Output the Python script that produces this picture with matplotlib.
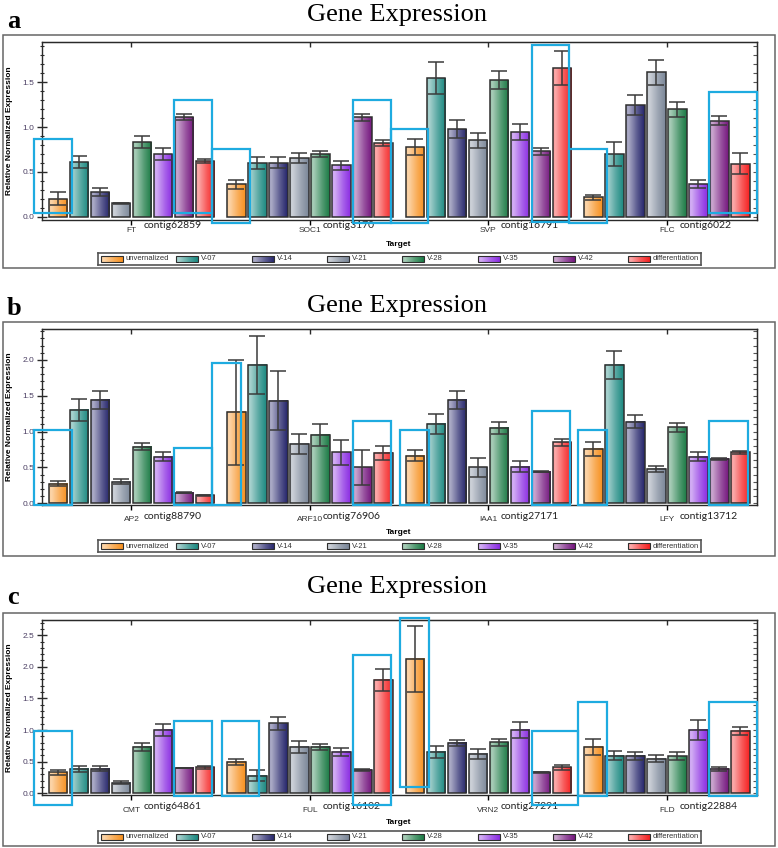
import numpy as np
import matplotlib
matplotlib.use('Agg')
import matplotlib.pyplot as plt
from matplotlib.colors import LinearSegmentedColormap, to_rgb
from matplotlib.patches import Rectangle
from matplotlib.ticker import MultipleLocator

# series (legend order) and the groups on each panel
series = ['unvernalized', 'V-07', 'V-14', 'V-21', 'V-28', 'V-35', 'V-42', 'differentiation']

genes_a = ['FT', 'SOC1', 'SVP', 'FLC']
contigs_a = ['contig62859', 'contig3170', 'contig16791', 'contig6022']
vals_a = [[0.20, 0.61, 0.27, 0.15, 0.83, 0.70, 1.11, 0.62],
          [0.36, 0.60, 0.60, 0.655, 0.70, 0.575, 1.11, 0.82],
          [0.78, 1.55, 0.98, 0.85, 1.53, 0.94, 0.73, 1.66],
          [0.215, 0.70, 1.25, 1.61, 1.20, 0.36, 1.07, 0.59]]
errs_a = [[0.07, 0.07, 0.045, 0.005, 0.065, 0.07, 0.035, 0.025],
          [0.05, 0.07, 0.06, 0.06, 0.035, 0.05, 0.04, 0.035],
          [0.09, 0.18, 0.10, 0.085, 0.10, 0.09, 0.04, 0.19],
          [0.025, 0.13, 0.11, 0.14, 0.085, 0.045, 0.05, 0.12]]

genes_b = ['AP2', 'ARF10', 'IAA1', 'LFY']
contigs_b = ['contig88790', 'contig76906', 'contig27171', 'contig13712']
vals_b = [[0.27, 1.30, 1.44, 0.30, 0.79, 0.65, 0.15, 0.11],
          [1.27, 1.93, 1.43, 0.83, 0.95, 0.71, 0.50, 0.70],
          [0.665, 1.11, 1.44, 0.50, 1.05, 0.51, 0.44, 0.85],
          [0.76, 1.93, 1.14, 0.48, 1.06, 0.65, 0.62, 0.71]]
errs_b = [[0.035, 0.15, 0.12, 0.035, 0.045, 0.06, 0.005, 0.005],
          [0.73, 0.40, 0.41, 0.14, 0.15, 0.17, 0.24, 0.10],
          [0.08, 0.14, 0.125, 0.13, 0.08, 0.075, 0.01, 0.05],
          [0.095, 0.20, 0.09, 0.04, 0.06, 0.065, 0.015, 0.02]]

genes_c = ['CMT', 'FUL', 'VRN2', 'FLD']
contigs_c = ['contig64861', 'contig16102', 'contig27291', 'contig22884']
vals_c = [[0.33, 0.385, 0.385, 0.17, 0.73, 1.00, 0.40, 0.41],
          [0.50, 0.28, 1.105, 0.73, 0.73, 0.65, 0.37, 1.79],
          [2.12, 0.65, 0.80, 0.62, 0.805, 1.00, 0.33, 0.41],
          [0.73, 0.595, 0.595, 0.55, 0.585, 1.00, 0.385, 0.985]]
errs_c = [[0.035, 0.05, 0.04, 0.02, 0.06, 0.10, 0.005, 0.02],
          [0.05, 0.085, 0.10, 0.09, 0.045, 0.06, 0.015, 0.17],
          [0.52, 0.09, 0.05, 0.085, 0.05, 0.12, 0.005, 0.035],
          [0.13, 0.07, 0.065, 0.05, 0.06, 0.16, 0.03, 0.065]]

# cyan highlight boxes (x0, x1, y0, y1) in data units
boxes_a = [(-1.13, 0.68, 0.04, 0.87), (5.54, 7.35, 0.04, 1.30), (7.35, 9.14, -0.07, 0.76),
           (14.05, 15.86, -0.067, 1.30), (15.86, 17.62, -0.067, 0.98), (22.56, 24.35, -0.056, 1.92),
           (24.35, 26.16, -0.07, 0.76), (31.0, 33.27, 0.04, 1.39)]
boxes_b = [(-1.13, 0.68, -0.02, 1.02), (5.54, 7.35, -0.02, 0.77), (7.35, 8.70, -0.02, 1.95),
           (14.05, 15.86, -0.02, 1.15), (16.3, 17.67, -0.02, 1.02), (22.56, 24.38, -0.02, 1.29),
           (24.78, 26.16, -0.02, 1.02), (31.0, 32.84, -0.02, 1.15)]
boxes_c = [(-1.13, 0.68, -0.18, 0.99), (5.54, 7.35, -0.05, 1.14), (7.79, 9.59, -0.05, 1.14),
           (14.05, 15.86, -0.18, 2.18), (16.3, 17.67, 0.095, 2.77), (22.56, 24.78, -0.18, 0.99),
           (24.78, 26.16, -0.05, 1.45), (31.0, 33.27, -0.05, 1.45)]

base_colors = ['#f7901e', '#1a8880', '#23236a', '#7a8698', '#1a7a44', '#8a2be2', '#74167e', '#f52020']


def grad_cmap(c):
    c = np.array(to_rgb(c))
    w = np.ones(3)
    return LinearSegmentedColormap.from_list(
        'g', [(0.0, c * 0.45 + w * 0.55), (0.12, c * 0.38 + w * 0.62),
              (0.6, c * 0.75 + w * 0.25), (1.0, c)])


cmaps = [grad_cmap(c) for c in base_colors]
grad = np.linspace(0, 1, 64).reshape(1, -1)

W, H = 778, 848
fig = plt.figure(figsize=(W / 100, H / 100), dpi=100)


def fx(px):
    return px / W


def fy(py):
    return 1 - py / H


XLIM = (-0.76, 33.29)
GSTEP = 8.5
BOXC = '#1eabe0'
DARK = '#2e2e2e'

panels = [
    dict(letter='a', genes=genes_a, contigs=contigs_a, vals=vals_a, errs=errs_a, boxes=boxes_a,
         top=42, bot=219.7, ylim=(-0.035, 1.95), ymax_tick=1.5, frame=(35, 268), title=21,
         letter_y=28, legend_y=259, target_y=245, contig_off=1.5, gene_pad=5),
    dict(letter='b', genes=genes_b, contigs=contigs_b, vals=vals_b, errs=errs_b, boxes=boxes_b,
         top=329.3, bot=505, ylim=(-0.024, 2.427), ymax_tick=2.0, frame=(321.7, 556), title=312,
         letter_y=315, legend_y=546, target_y=532, contig_off=7, gene_pad=8),
    dict(letter='c', genes=genes_c, contigs=contigs_c, vals=vals_c, errs=errs_c, boxes=boxes_c,
         top=620, bot=795, ylim=(-0.027, 2.74), ymax_tick=2.5, frame=(612.7, 845.7), title=593,
         letter_y=604, legend_y=837, target_y=822, contig_off=7, gene_pad=9),
]

for p in panels:
    # outer frame, title, letter
    fig.patches.append(Rectangle((fx(3), fy(p['frame'][1])), fx(775) - fx(3),
                                 (p['frame'][1] - p['frame'][0]) / H, transform=fig.transFigure,
                                 fill=False, edgecolor='#666666', lw=1.1))
    fig.text(fx(397), fy(p['title']), 'Gene Expression', family='Liberation Serif',
             fontsize=19, ha='center', va='baseline')
    fig.text(fx(7), fy(p['letter_y']), p['letter'], family='Liberation Serif',
             fontsize=19, fontweight='bold', ha='left', va='baseline')

    ax = fig.add_axes([fx(42), fy(p['bot']), fx(757) - fx(42), (p['bot'] - p['top']) / H])
    vals = np.array(p['vals'])
    errs = np.array(p['errs'])
    centers = np.arange(4) * GSTEP + 3.5
    for j in range(8):
        xs = np.arange(4) * GSTEP + j
        bars = ax.bar(xs, vals[:, j], width=0.88, facecolor='none', edgecolor=DARK,
                      lw=1.1, zorder=3)
        for r in bars:
            x0, w, h = r.get_x(), r.get_width(), r.get_height()
            ax.imshow(grad, cmap=cmaps[j], extent=(x0, x0 + w, 0, h), aspect='auto',
                      interpolation='bilinear', zorder=2)
        ax.errorbar(xs, vals[:, j], yerr=errs[:, j], fmt='none', ecolor='#3a3a3a',
                    elinewidth=1.1, capsize=5.6, capthick=1.1, zorder=4)
    for (x0, x1, y0, y1) in p['boxes']:
        ax.add_patch(Rectangle((x0, y0), x1 - x0, y1 - y0, fill=False, edgecolor=BOXC,
                               lw=1.6, zorder=6, clip_on=False))
    ax.set_xlim(*XLIM)
    ax.set_ylim(*p['ylim'])
    ax.set_aspect('auto')

    for s in ax.spines.values():
        s.set_color('#2a2a2a')
        s.set_linewidth(1.0)

    ax.set_yticks(np.arange(0, p['ymax_tick'] + 0.01, 0.5))
    ax.set_yticklabels(['%.1f' % v for v in np.arange(0, p['ymax_tick'] + 0.01, 0.5)])
    ax.yaxis.set_minor_locator(MultipleLocator(0.1))
    ax.tick_params(axis='y', which='major', direction='inout', length=6.5, width=1,
                   labelsize=6, labelcolor='#4b3f63', color='#2a2a2a', pad=2,
                   labelfontfamily='Liberation Sans')
    ax.tick_params(axis='y', which='minor', direction='inout', length=3.5, width=0.8,
                   color='#2a2a2a')

    ax.set_xticks(centers)
    ax.set_xticklabels(p['genes'])
    ax.tick_params(axis='x', which='major', direction='out', length=3.5, width=1,
                   labelsize=6, labelcolor='#333333', pad=p['gene_pad'] - 3.5,
                   labelfontfamily='Liberation Sans')

    top = ax.secondary_xaxis('top')
    top.set_xticks(centers)
    top.set_xticklabels([])
    top.tick_params(direction='in', length=3.5, width=1, color='#2a2a2a')

    right = ax.secondary_yaxis('right')
    right.yaxis.set_major_locator(MultipleLocator(0.1))
    right.set_yticklabels([])
    right.tick_params(direction='in', length=3, width=0.8, color='#555555')

    for cx, name in zip(centers, p['contigs']):
        ax.annotate(name, xy=(cx + 0.6, 0), xycoords=('data', 'axes fraction'),
                    xytext=(0, -p['contig_off'] * 0.72), textcoords='offset points',
                    ha='left', va='top', fontsize=7.5, family='Lato', color='#222222')

    ax.set_ylabel('Relative Normalized Expression', fontsize=6, fontweight='bold',
                  family='Liberation Sans')
    ax.yaxis.set_label_coords((13 - 42) / 715, 0.5)
    fig.text(fx(399), fy(p['target_y']), 'Target', fontsize=6, fontweight='bold',
             family='Liberation Sans', ha='center', va='center')

    # legend strip
    ly = p['legend_y']
    lax = fig.add_axes([fx(98), fy(ly + 6), fx(701) - fx(98), 12 / H])
    lax.set_xlim(98, 701)
    lax.set_ylim(ly + 6, ly - 6)
    lax.set_xticks([])
    lax.set_yticks([])
    for s in lax.spines.values():
        s.set_color('#555555')
        s.set_linewidth(1.2)
    for k, name in enumerate(series):
        px0 = 101 + 75.3 * k
        lax.imshow(grad, cmap=cmaps[k], extent=(px0, px0 + 22, ly + 2.8, ly - 2.8),
                   aspect='auto', interpolation='bilinear', zorder=2)
        lax.add_patch(Rectangle((px0, ly - 2.8), 22, 5.6, fill=False, edgecolor=DARK,
                                lw=0.8, zorder=3))
        lax.text(px0 + 25, ly, name, fontsize=5.5, family='Liberation Sans',
                 color='#333333', ha='left', va='center')
    lax.set_xlim(98, 701)
    lax.set_ylim(ly + 6, ly - 6)

fig.savefig('out.png', dpi=100)
